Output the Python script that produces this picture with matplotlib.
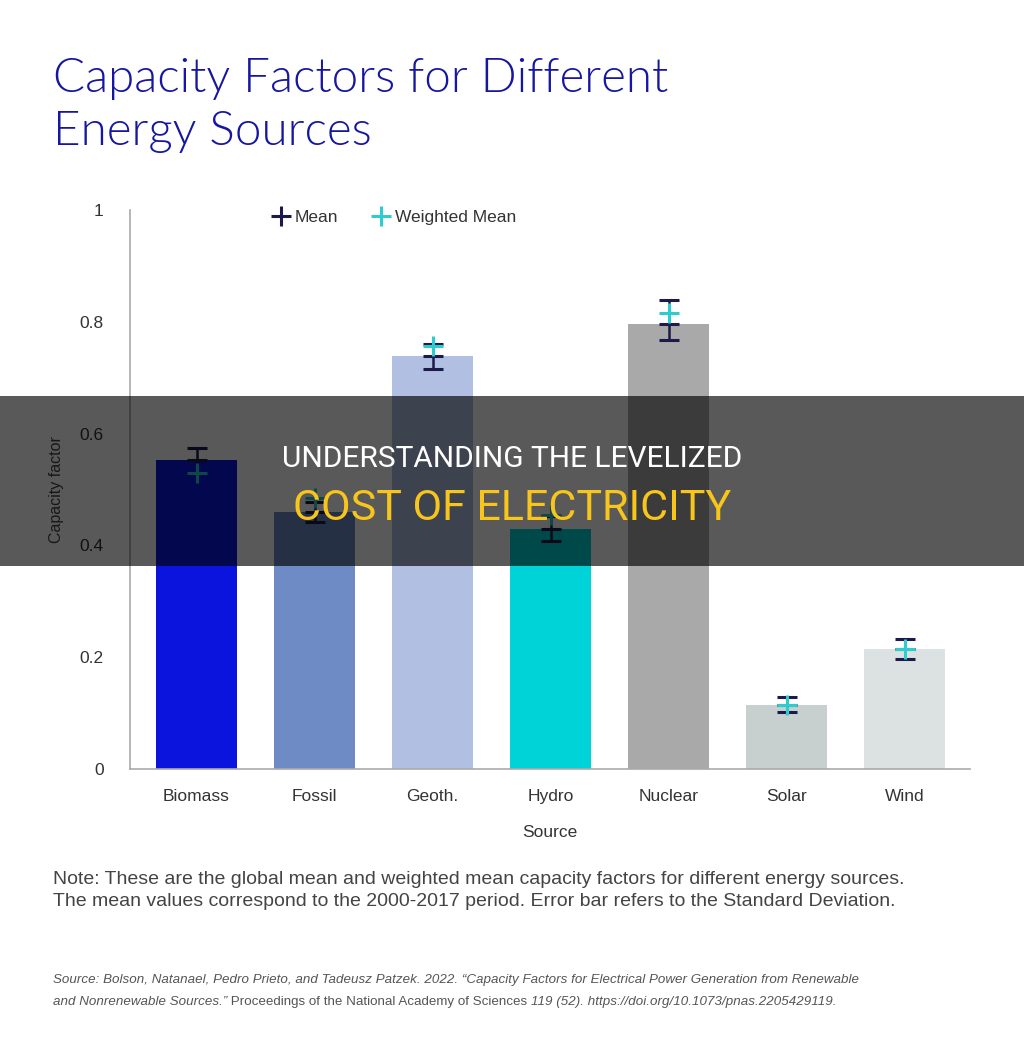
import matplotlib
matplotlib.use('Agg')
import matplotlib.pyplot as plt
from matplotlib import font_manager
from matplotlib.lines import Line2D
from matplotlib.patches import Rectangle
import numpy as np

# --- data ---
sources = ['Biomass', 'Fossil', 'Geoth.', 'Hydro', 'Nuclear', 'Solar', 'Wind']
mean_cf = [0.552, 0.459, 0.738, 0.430, 0.796, 0.114, 0.214]
std_low = [0.023, 0.018, 0.022, 0.022, 0.028, 0.012, 0.018]
std_high = [0.023, 0.018, 0.022, 0.022, 0.043, 0.015, 0.018]
weighted_cf = [0.530, 0.485, 0.757, 0.455, 0.816, 0.115, 0.215]
bar_colors = ['#0a14dc', '#6e8bc6', '#b0bfe2', '#00d3d8', '#a9a9a9', '#c8cfcf', '#dce2e2']
y_ticks = [0, 0.2, 0.4, 0.6, 0.8, 1]
y_tick_labels = ['0', '0.2', '0.4', '0.6', '0.8', '1']


def has_font(name):
    try:
        font_manager.findfont(name, fallback_to_default=False)
        return True
    except Exception:
        return False


base_font = 'Liberation Sans'
narrow_font = 'Liberation Sans Narrow' if has_font('Liberation Sans Narrow') else 'Roboto'
plt.rcParams['font.family'] = [base_font, 'DejaVu Sans']

W, H = 1024, 1054
fig = plt.figure(figsize=(W / 100, H / 100), dpi=100)
fig.patch.set_facecolor('white')

# axes box: spine x 130..970, y 210..769 (pixels)
ax = fig.add_axes([130 / W, 1 - 769 / H, 840 / W, 559 / H])
x = np.arange(len(sources))

ax.bar(x, mean_cf, width=0.68, color=bar_colors, zorder=2)
ax.errorbar(x, mean_cf, yerr=[std_low, std_high], fmt='_', color='#1b1a4a',
            ecolor='#1b1a4a', markersize=15, mew=2.2, elinewidth=1.8,
            capsize=7.5, capthick=2.2, zorder=3)
ax.plot(x, weighted_cf, linestyle='none', marker='+', color='#2ccccf',
        markersize=15, mew=2.2, zorder=4)

ax.set_xlim(-0.564, 6.555)
ax.set_ylim(0, 1)
ax.set_yticks(y_ticks)
ax.set_yticklabels(y_tick_labels)
ax.set_xticks(x)
ax.set_xticklabels(sources)
ax.tick_params(axis='both', length=0, labelsize=12.5, colors='#333333')
ax.tick_params(axis='x', pad=14.5)
ax.tick_params(axis='y', pad=19)
ax.set_xlabel('Source', fontsize=12.5, color='#333333', labelpad=15)
ax.set_ylabel('Capacity factor', fontsize=11.5, color='#444444', labelpad=11)

for side in ['top', 'right']:
    ax.spines[side].set_visible(False)
for side in ['left', 'bottom']:
    ax.spines[side].set_color('#aaaaaa')
    ax.spines[side].set_linewidth(1.2)

handles = [
    Line2D([], [], linestyle='none', marker='+', color='#1b1a4a', markersize=15, mew=2.2),
    Line2D([], [], linestyle='none', marker='+', color='#2ccccf', markersize=15, mew=2.2),
]
ax.legend(handles, ['Mean', 'Weighted Mean'], loc='center', bbox_to_anchor=(0.315, 0.986),
          ncol=2, frameon=False, fontsize=12.5, handlelength=0.9, handletextpad=0.35,
          columnspacing=2.0, labelcolor='#333333')

# title
title_kw = dict(fontsize=34.2, color='#1616a0', ha='left', va='baseline',
                family=['Lato', base_font], fontweight=300)
fig.text(53 / W, 1 - 92 / H, 'Capacity Factors for Different', **title_kw)
fig.text(53 / W, 1 - 145 / H, 'Energy Sources', **title_kw)

# note
note_kw = dict(fontsize=14.0, color='#444444', ha='left', va='center')
fig.text(53 / W, 1 - 880 / H,
         'Note: These are the global mean and weighted mean capacity factors for different energy sources.',
         **note_kw)
fig.text(53 / W, 1 - 902 / H,
         'The mean values correspond to the 2000-2017 period. Error bar refers to the Standard Deviation.',
         **note_kw)

# source (mixed italic / upright)
src_kw = dict(fontsize=9.65, color='#555555')
fig.text(53 / W, 1 - 980 / H,
         'Source: Bolson, Natanael, Pedro Prieto, and Tadeusz Patzek. 2022. '
         '\u201cCapacity Factors for Electrical Power Generation from Renewable',
         style='italic', ha='left', va='center', **src_kw)
t1 = fig.text(53 / W, 1 - 1002 / H, 'and Nonrenewable Sources.\u201d',
              style='italic', ha='left', va='center', **src_kw)
t2 = plt.annotate(' Proceedings of the National Academy of Sciences ', xy=(1, 0), xycoords=t1,
                  ha='left', va='bottom', annotation_clip=False, **src_kw)
plt.annotate('119 (52). https://doi.org/10.1073/pnas.2205429119.', xy=(1, 0), xycoords=t2,
             ha='left', va='bottom', style='italic', annotation_clip=False, **src_kw)

# dark banner overlay
fig.patches.append(Rectangle((0, 1 - 566 / H), 1, 170 / H, transform=fig.transFigure,
                             facecolor='black', alpha=0.65, edgecolor='none', zorder=10))
fig.text(0.5, 1 - 459 / H, 'UNDERSTANDING THE LEVELIZED', color='white', fontsize=21.5,
         family=[narrow_font, 'DejaVu Sans'], ha='center', va='center', zorder=11)
fig.text(0.5, 1 - 508 / H, 'COST OF ELECTRICITY', color='#f7c51b', fontsize=31,
         family=[narrow_font, 'DejaVu Sans'], ha='center', va='center', zorder=11)

fig.savefig('out.png', dpi=100)
